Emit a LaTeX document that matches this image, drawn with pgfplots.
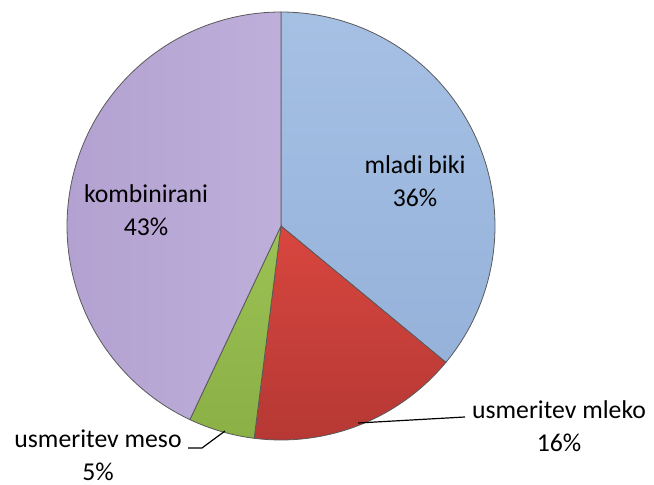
\documentclass[border=0pt]{standalone}
\usepackage{pgfplots}
\pgfplotsset{compat=1.18}
\usepackage{fontspec}
\setmainfont{Carlito}
\definecolor{cblue}{HTML}{A6C0E4}
\definecolor{cblueD}{HTML}{96B2DA}
\definecolor{cred}{HTML}{D8463F}
\definecolor{credD}{HTML}{B63834}
\definecolor{cgreen}{HTML}{9CC255}
\definecolor{cgreenD}{HTML}{8AB046}
\definecolor{cpurp}{HTML}{BEAEDA}
\definecolor{cpurpD}{HTML}{B3A2D1}
% shares in percent
\def\vA{36}% mladi biki
\def\vB{16}% usmeritev mleko
\def\vC{5}%  usmeritev meso
\def\vD{43}% kombinirani
\pgfmathsetmacro\aO{90}
\pgfmathsetmacro\aA{90-3.6*\vA}
\pgfmathsetmacro\aB{\aA-3.6*\vB}
\pgfmathsetmacro\aC{\aB-3.6*\vC}
\pgfmathsetmacro\aD{\aC-3.6*\vD}
\def\R{214}
\begin{document}
\begin{tikzpicture}
\begin{axis}[hide axis, scale only axis, x=0.5bp, y=0.5bp,
  xmin=-281, xmax=373, ymin=-259, ymax=226, clip=false]
\path (axis cs:-281,-259) rectangle (axis cs:373,226);
\addplot[draw=black!65, line width=0.4pt, top color=cblue, bottom color=cblueD, samples=90, domain=\aA:\aO, variable=\t]
  ({\R*cos(\t)},{\R*sin(\t)}) -- (axis cs:0,0) -- cycle;
\addplot[draw=black!65, line width=0.4pt, top color=cred, bottom color=credD, samples=60, domain=\aB:\aA, variable=\t]
  ({\R*cos(\t)},{\R*sin(\t)}) -- (axis cs:0,0) -- cycle;
\addplot[draw=black!65, line width=0.4pt, top color=cgreen, bottom color=cgreenD, samples=30, domain=\aC:\aB, variable=\t]
  ({\R*cos(\t)},{\R*sin(\t)}) -- (axis cs:0,0) -- cycle;
\addplot[draw=black!65, line width=0.4pt, left color=cpurpD, right color=cpurp, samples=100, domain=\aD:\aC, variable=\t]
  ({\R*cos(\t)},{\R*sin(\t)}) -- (axis cs:0,0) -- cycle;
% leader lines
\addplot[black, line width=0.6pt] coordinates {(77,-197) (184,-191)};
\addplot[black, line width=0.6pt] coordinates {(-56,-205) (-79,-222) (-93,-222)};
% labels
\begin{scope}[every node/.style={font=\fontsize{12.9}{16.5}\selectfont, align=center, text=black, inner sep=0pt}]
\node at (axis cs:134,45) {mladi biki\\36\%};
\node at (axis cs:-135,16) {kombinirani\\43\%};
\node at (axis cs:278,-200) {usmeritev mleko\\16\%};
\node at (axis cs:-183,-229) {usmeritev meso\\5\%};
\end{scope}
\end{axis}
\end{tikzpicture}
\end{document}
